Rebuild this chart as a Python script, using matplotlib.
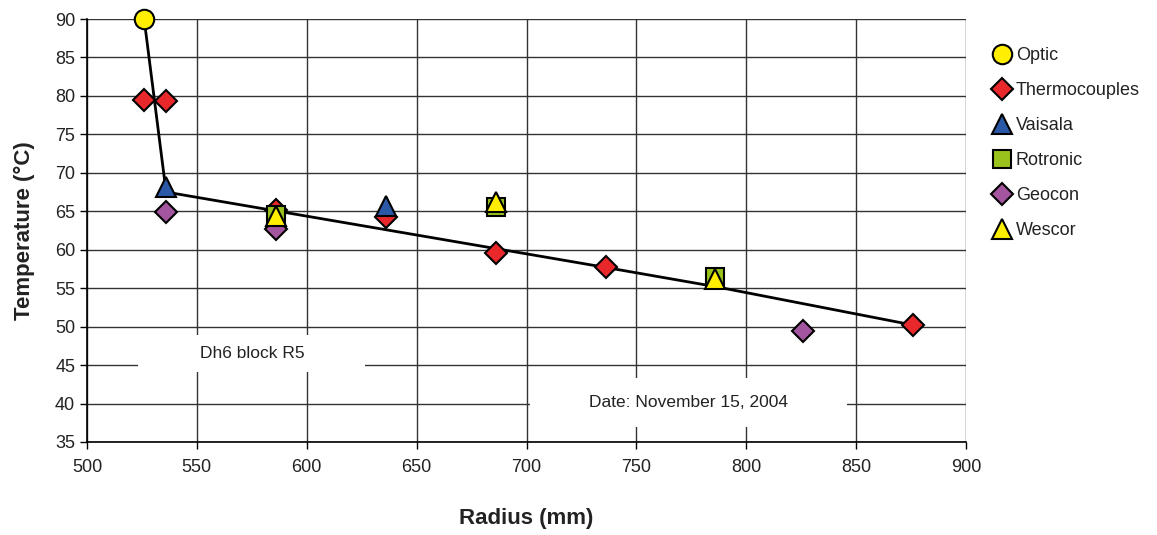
import matplotlib
matplotlib.use("Agg")
import matplotlib.pyplot as plt

plt.rcParams['font.family'] = ['Liberation Sans', 'DejaVu Sans']

# Sensor readings: radius (mm) and temperature (°C)
optic_r = [526]
optic_t = [90]
thermo_r = [526, 536, 586, 636, 686, 736, 876]
thermo_t = [79.5, 79.4, 65.2, 64.2, 59.6, 57.7, 50.2]
vaisala_r = [536, 636]
vaisala_t = [68.2, 65.7]
rotronic_r = [586, 686, 786]
rotronic_t = [64.5, 65.6, 56.4]
geocon_r = [536, 586, 826]
geocon_t = [64.9, 62.7, 49.4]
wescor_r = [586, 686, 786]
wescor_t = [64.4, 66.2, 56.2]

# Temperature profile line
profile_r = [526, 536, 736, 786, 876]
profile_t = [90, 67.5, 57.7, 55.2, 50.2]

x_ticks = [500, 550, 600, 650, 700, 750, 800, 850, 900]
y_ticks = [35, 40, 45, 50, 55, 60, 65, 70, 75, 80, 85, 90]

text_color = '#222222'

fig = plt.figure(figsize=(11.57, 5.35), dpi=100)
ax = fig.add_axes([87 / 1157, 1 - 442 / 535, (966 - 87) / 1157, (442 - 19) / 535])

ax.plot(profile_r, profile_t, color='black', lw=2, zorder=2)

series = [
    ('Optic', optic_r, optic_t, 'o', '#ffee00', 14),
    ('Thermocouples', thermo_r, thermo_t, 'D', '#e8282a', 11.5),
    ('Vaisala', vaisala_r, vaisala_t, '^', '#2b59a8', 14.5),
    ('Rotronic', rotronic_r, rotronic_t, 's', '#99c31c', 13),
    ('Geocon', geocon_r, geocon_t, 'D', '#a455a0', 11.5),
    ('Wescor', wescor_r, wescor_t, '^', '#ffee00', 14.5),
]
handles = []
for name, r, t, m, c, ms in series:
    h, = ax.plot(r, t, linestyle='none', marker=m, markersize=ms,
                 markerfacecolor=c, markeredgecolor='black', markeredgewidth=1.5,
                 label=name, zorder=3, clip_on=False)
    handles.append(h)

ax.set_xlim(500, 900)
ax.set_ylim(35, 90)
ax.set_xticks(x_ticks)
ax.set_yticks(y_ticks)
ax.grid(True, color='#333333', lw=1)
ax.set_axisbelow(True)
for s in ['top', 'right']:
    ax.spines[s].set_visible(False)
for s in ['left', 'bottom']:
    ax.spines[s].set_linewidth(1.2)
ax.tick_params(axis='both', labelsize=13, length=5, width=1, direction='out',
               colors='black', labelcolor=text_color)
ax.tick_params(axis='x', pad=7)

ax.set_xlabel('Radius (mm)', fontsize=16, fontweight='bold', labelpad=23, color=text_color)
ax.set_ylabel('Temperature (°C)', fontsize=16, fontweight='bold', labelpad=14, color=text_color)

# Annotation boxes
ax.add_patch(plt.Rectangle((523.2, 44.1), 103.2, 4.8, facecolor='white', edgecolor='none', zorder=1.2))
ax.text(575, 46.5, 'Dh6 block R5', fontsize=12.5, ha='center', va='center',
        color=text_color, zorder=1.5)
ax.add_patch(plt.Rectangle((701.6, 36.9), 144.2, 6.4, facecolor='white', edgecolor='none', zorder=1.2))
ax.text(773.7, 40.1, 'Date: November 15, 2004', fontsize=12.5, ha='center', va='center',
        color=text_color, zorder=1.5)

fig.legend(handles=handles, loc='upper left', bbox_to_anchor=(986 / 1157, 1 - 38 / 535),
           frameon=False, fontsize=13, handlelength=0.8, handletextpad=0.35,
           labelspacing=1.0, borderpad=0, labelcolor=text_color)

fig.savefig('out.png', dpi=100)
